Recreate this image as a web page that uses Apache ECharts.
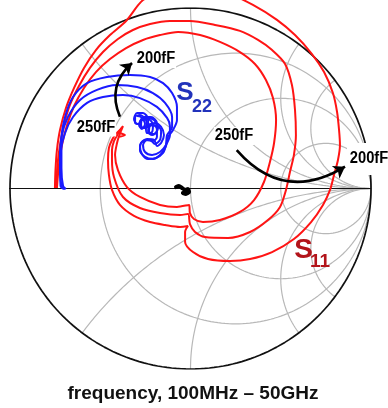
<!DOCTYPE html>
<html>
<head>
<meta charset="utf-8">
<script src="https://cdn.jsdelivr.net/npm/echarts@6/dist/echarts.min.js"></script>
<style>
html,body{margin:0;padding:0;background:#fff;}
#chart{width:388px;height:408px;}
</style>
</head>
<body>
<div id="chart"></div>
<script>
// Smith chart grid: normalised resistance circles and reactance arcs
const resistanceCircles = [1/3, 1, 3];
const reactanceArcs = [0.5, 1, 2, 3, -0.5, -1, -2, -3];

// S11 traces, reflection coefficient [Re, Im], 200fF / 225fF / 250fF
const s11_200fF = [
  [-0.751,0.003],[-0.748,0.102],[-0.740,0.213],[-0.723,0.324],[-0.690,0.446],[-0.645,0.557],
  [-0.590,0.668],[-0.524,0.767],[-0.446,0.850],[-0.357,0.928],[-0.263,1.044],[-0.141,1.100],
  [0.025,1.122],[0.191,1.089],[0.346,1.017],[0.479,0.934],[0.579,0.850],[0.673,0.745],
  [0.740,0.645],[0.789,0.529],[0.812,0.424],[0.823,0.324],[0.828,0.241],[0.817,0.158],
  [0.795,0.075],[0.773,-0.008],[0.734,-0.091],[0.668,-0.186],[0.573,-0.280],[0.452,-0.352],
  [0.330,-0.391],[0.219,-0.402],[0.097,-0.391],[0.014,-0.352],[-0.030,-0.296],[-0.030,-0.241],
  [-0.014,-0.208],[-0.058,-0.213],[-0.141,-0.202],[-0.224,-0.186],[-0.313,-0.152],[-0.391,-0.091],
  [-0.435,-0.008],[-0.452,0.075],[-0.457,0.158],[-0.452,0.224],[-0.435,0.269],[-0.413,0.302],
  [-0.391,0.324]
];
const s11_225fF = [
  [-0.745,0.003],[-0.737,0.130],[-0.723,0.241],[-0.701,0.352],[-0.668,0.463],[-0.618,0.568],
  [-0.557,0.668],[-0.485,0.756],[-0.402,0.828],[-0.319,0.878],[-0.224,0.911],[-0.114,0.928],
  [-0.003,0.928],[0.136,0.906],[0.274,0.873],[0.374,0.823],[0.452,0.767],[0.524,0.690],
  [0.562,0.573],[0.579,0.435],[0.584,0.296],[0.573,0.186],[0.551,0.091],[0.529,-0.008],
  [0.496,-0.102],[0.429,-0.175],[0.330,-0.241],[0.208,-0.274],[0.080,-0.269],[0.025,-0.241],
  [-0.003,-0.197],[-0.014,-0.141],[-0.058,-0.147],[-0.169,-0.136],[-0.280,-0.108],[-0.374,-0.047],
  [-0.424,0.064],[-0.435,0.158],[-0.435,0.213],[-0.424,0.263],[-0.402,0.302],[-0.385,0.330]
];
const s11_250fF = [
  [-0.740,0.003],[-0.729,0.130],[-0.712,0.241],[-0.684,0.352],[-0.645,0.457],[-0.590,0.557],
  [-0.524,0.645],[-0.446,0.717],[-0.357,0.778],[-0.263,0.823],[-0.169,0.850],[-0.069,0.867],
  [0.053,0.850],[0.163,0.812],[0.274,0.756],[0.357,0.690],[0.418,0.601],[0.457,0.501],
  [0.474,0.380],[0.463,0.252],[0.440,0.147],[0.407,0.036],[0.352,-0.064],[0.274,-0.130],
  [0.163,-0.175],[0.069,-0.186],[0.019,-0.169],[-0.003,-0.136],[-0.008,-0.091],[-0.075,-0.102],
  [-0.169,-0.091],[-0.280,-0.047],[-0.352,0.008],[-0.402,0.102],[-0.418,0.186],[-0.407,0.252],
  [-0.396,0.291],[-0.385,0.319],[-0.374,0.346],[-0.396,0.313],[-0.363,0.296],[-0.402,0.285]
];

// S22 traces, reflection coefficient [Re, Im], 200fF / 225fF / 250fF
const s22_200fF = [
  [-0.690,-0.003],[-0.706,0.014],[-0.715,0.114],[-0.715,0.269],[-0.695,0.396],[-0.651,0.507],
  [-0.573,0.584],[-0.463,0.618],[-0.335,0.629],[-0.224,0.618],[-0.152,0.584],[-0.102,0.529],
  [-0.075,0.452],[-0.075,0.380],[-0.097,0.324],[-0.125,0.285],[-0.136,0.235],[-0.163,0.191],
  [-0.208,0.163],[-0.252,0.175],[-0.280,0.213],[-0.274,0.252],[-0.241,0.274],[-0.202,0.269],
  [-0.186,0.235],[-0.163,0.252],[-0.147,0.296],[-0.163,0.341],[-0.197,0.363],[-0.230,0.346],
  [-0.235,0.313],[-0.213,0.296],[-0.186,0.319],[-0.186,0.363],[-0.219,0.396],[-0.258,0.396],
  [-0.280,0.363],[-0.263,0.335],[-0.235,0.346],[-0.235,0.385],[-0.263,0.418],[-0.296,0.418],
  [-0.313,0.385],[-0.296,0.357],[-0.269,0.368]
];
const s22_225fF = [
  [-0.695,-0.003],[-0.715,0.014],[-0.723,0.158],[-0.715,0.285],[-0.679,0.396],[-0.612,0.490],
  [-0.518,0.546],[-0.407,0.573],[-0.296,0.562],[-0.208,0.529],[-0.141,0.474],[-0.102,0.396],
  [-0.102,0.341],[-0.130,0.296],[-0.136,0.241],[-0.152,0.197],[-0.191,0.169],[-0.235,0.163],
  [-0.269,0.191],[-0.280,0.235],[-0.263,0.263],[-0.224,0.269],[-0.197,0.247],[-0.169,0.269],
  [-0.163,0.319],[-0.191,0.352],[-0.224,0.346],[-0.230,0.313],[-0.202,0.302],[-0.180,0.335],
  [-0.202,0.380],[-0.241,0.391],[-0.274,0.368],[-0.269,0.335],[-0.241,0.341],[-0.247,0.380],
  [-0.280,0.407],[-0.307,0.396],[-0.307,0.363],[-0.280,0.357]
];
const s22_250fF = [
  [-0.701,-0.003],[-0.720,0.014],[-0.723,0.175],[-0.695,0.307],[-0.651,0.396],[-0.573,0.474],
  [-0.485,0.507],[-0.374,0.518],[-0.280,0.501],[-0.186,0.452],[-0.130,0.391],[-0.114,0.346],
  [-0.114,0.296],[-0.136,0.241],[-0.169,0.202],[-0.213,0.186],[-0.252,0.202],[-0.263,0.241],
  [-0.241,0.269],[-0.208,0.263],[-0.186,0.285],[-0.186,0.330],[-0.219,0.357],[-0.247,0.341],
  [-0.241,0.307],[-0.213,0.313],[-0.208,0.352],[-0.235,0.385],[-0.269,0.385],[-0.285,0.352],
  [-0.269,0.330],[-0.252,0.357],[-0.274,0.396],[-0.296,0.402]
];

// small marker trace near the chart centre
const centreMarker = [
  [-0.080,0.008],[-0.064,0.014],[-0.047,0.003],[-0.030,-0.008],[-0.014,-0.003],
  [-0.008,-0.019],[-0.025,-0.030],[-0.042,-0.025]
];

// capacitance sweep arrows (from -> to)
const s22Arrow = [[-0.391,0.398],[-0.324,0.695]];
const s11Arrow = [[0.856,0.121],[0.256,0.213]];

function resistanceCircle(r) {
  const c = r / (1 + r), rad = 1 / (1 + r), pts = [];
  for (let i = 0; i <= 240; i++) {
    const a = i / 240 * 2 * Math.PI;
    pts.push([c + rad * Math.cos(a), rad * Math.sin(a)]);
  }
  return pts;
}
function reactanceArc(x) {
  const pts = [];
  for (let i = 0; i <= 300; i++) {
    const t = Math.tan(i / 300 * Math.PI / 2 * 0.9995);
    const nr = t - 1, dr = t + 1, den = dr * dr + x * x;
    pts.push([(nr * dr + x * x) / den, (x * dr - nr * x) / den]);
  }
  pts.push([1, 0]);
  return pts;
}

const series = [];
resistanceCircles.forEach(r => series.push({
  type: 'line', data: resistanceCircle(r), showSymbol: false, silent: true, z: 1,
  lineStyle: { color: '#b8b8b8', width: 1.2 }
}));
reactanceArcs.forEach(x => series.push({
  type: 'line', data: reactanceArc(x), showSymbol: false, silent: true, z: 1,
  lineStyle: { color: '#b8b8b8', width: 1.2 }
}));
// outer |Γ| = 1 boundary and real axis
series.push({
  type: 'line', data: resistanceCircle(0), showSymbol: false, silent: true, z: 2,
  lineStyle: { color: '#111', width: 1.7 }
});
series.push({
  type: 'line', data: [[-1.02, 0], [1.0, 0]], showSymbol: false, silent: true, z: 2,
  lineStyle: { color: '#111', width: 1.2 }
});

const traceStyle = (color) => ({
  type: 'line', showSymbol: false, silent: true, clip: false, z: 3, smooth: 0.3,
  lineStyle: { color: color, width: 2 }
});
[s11_200fF, s11_225fF, s11_250fF].forEach(d => series.push(Object.assign(traceStyle('#ff1414'), { data: d })));
[s22_200fF, s22_225fF, s22_250fF].forEach(d => series.push(Object.assign(traceStyle('#1a1aff'), { data: d })));
series.push({
  type: 'line', data: centreMarker, showSymbol: false, silent: true, z: 4, smooth: 0.2,
  lineStyle: { color: '#000', width: 4, cap: 'round', join: 'round' }
});

// sweep arrows
series.push({
  type: 'lines', coordinateSystem: 'cartesian2d', silent: true, z: 5,
  symbol: ['none', 'arrow'], symbolSize: 11,
  lineStyle: { color: '#000', width: 2.6, curveness: 0.36, opacity: 1 },
  data: [{ coords: s22Arrow }]
});
series.push({
  type: 'lines', coordinateSystem: 'cartesian2d', silent: true, z: 5,
  symbol: ['arrow', 'none'], symbolSize: 11,
  lineStyle: { color: '#000', width: 2.6, curveness: 0.42, opacity: 1 },
  data: [{ coords: s11Arrow }]
});

const boldFont = (size) => 'bold ' + size + 'px "Liberation Sans", Arial, sans-serif';
function label(text, x, y, size, color, bg, sx) {
  const style = {
    text: text, font: boldFont(size), fill: color,
    align: 'center', verticalAlign: 'middle', textAlign: 'center', textVerticalAlign: 'middle'
  };
  if (bg) { style.backgroundColor = '#fff'; style.padding = bg; }
  return { type: 'text', x: x, y: y, scaleX: sx || 1, z: 100, silent: true, style: style };
}

const chart = echarts.init(document.getElementById('chart'), null, { renderer: 'canvas' });
chart.setOption({
  animation: false,
  backgroundColor: '#fff',
  grid: { left: 10, top: 8, width: 361, height: 361, containLabel: false },
  xAxis: { type: 'value', min: -1, max: 1, show: false },
  yAxis: { type: 'value', min: -1, max: 1, show: false },
  series: series,
  graphic: [
    label('200fF', 156, 59, 16, '#000', [1, 1, 1, 1], 0.92),
    label('250fF', 96, 127.5, 16, '#000', [1, 1, 1, 1], 0.92),
    label('250fF', 234, 136, 16, '#000', [1, 1, 1, 1], 0.92),
    label('200fF', 369, 159, 16, '#000', [8, 3, 8, 3], 0.92),
    label('S', 185, 92.5, 26, '#2233bb'),
    label('22', 202, 107.5, 18, '#2233bb'),
    label('S', 303.5, 250.5, 28, '#b3141a'),
    label('11', 320, 262, 19, '#b3141a'),
    label('frequency, 100MHz \u2013 50GHz', 193, 394, 19, '#111')
  ]
});
</script>
</body>
</html>
